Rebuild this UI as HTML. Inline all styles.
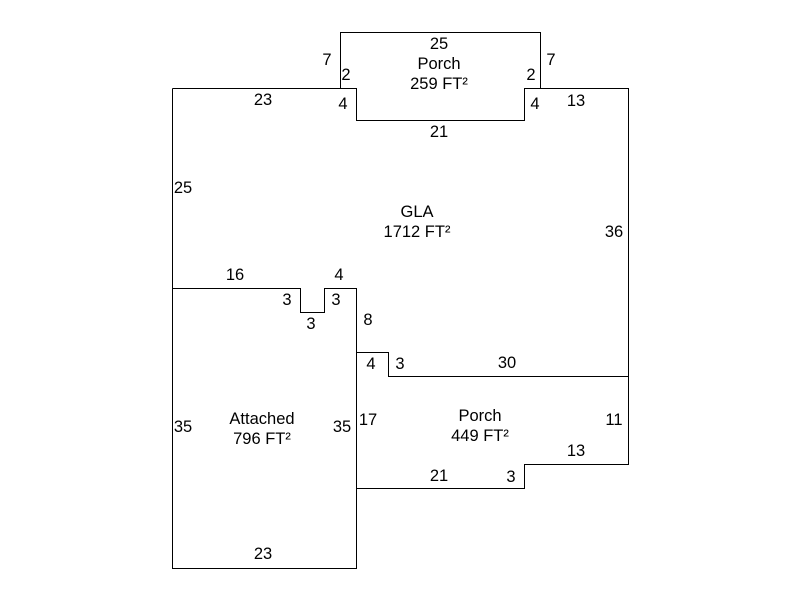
<!DOCTYPE html>
<html><head><meta charset="utf-8"><style>body{margin:0;background:#fff}</style></head><body>
<svg width="800" height="600" xmlns="http://www.w3.org/2000/svg" font-family="Liberation Sans, Arial, sans-serif" font-size="16.5" fill="#000">
<rect width="800" height="600" fill="#fff"/>
<g fill="none" stroke="#000" stroke-width="1">
<path d="M340.5,32.5H540.5V88.5H524.5V120.5H356.5V88.5H340.5Z"/>
<path d="M172.5,88.5H340.5"/>
<path d="M540.5,88.5H628.5V376.5H388.5V352.5H356.5V288.5H324.5V312.5H300.5V288.5H172.5V88.5"/>
<path d="M172.5,288.5V568.5H356.5V352.5"/>
<path d="M628.5,376.5V464.5H524.5V488.5H356.5"/>
</g>
<g text-anchor="middle">
<text x="439" y="49">25</text>
<text x="439" y="69">Porch</text>
<text x="439" y="89">259 FT²</text>
<text x="327" y="65">7</text>
<text x="346" y="80">2</text>
<text x="531" y="80">2</text>
<text x="551" y="65">7</text>
<text x="343" y="109">4</text>
<text x="535" y="109">4</text>
<text x="439" y="137">21</text>
<text x="263" y="105">23</text>
<text x="576" y="106">13</text>
<text x="183" y="193">25</text>
<text x="614" y="237">36</text>
<text x="417" y="217">GLA</text>
<text x="417" y="237">1712 FT²</text>
<text x="235" y="280">16</text>
<text x="339" y="280">4</text>
<text x="287" y="305">3</text>
<text x="336" y="305">3</text>
<text x="311" y="329">3</text>
<text x="368" y="325">8</text>
<text x="371" y="369">4</text>
<text x="400" y="369">3</text>
<text x="507" y="368">30</text>
<text x="262" y="424">Attached</text>
<text x="262" y="444">796 FT²</text>
<text x="183" y="432">35</text>
<text x="342" y="432">35</text>
<text x="368" y="425">17</text>
<text x="480" y="421">Porch</text>
<text x="480" y="441">449 FT²</text>
<text x="614" y="425">11</text>
<text x="576" y="456">13</text>
<text x="439" y="481">21</text>
<text x="511" y="482">3</text>
<text x="263" y="559">23</text>
</g>
</svg>
</body></html>
